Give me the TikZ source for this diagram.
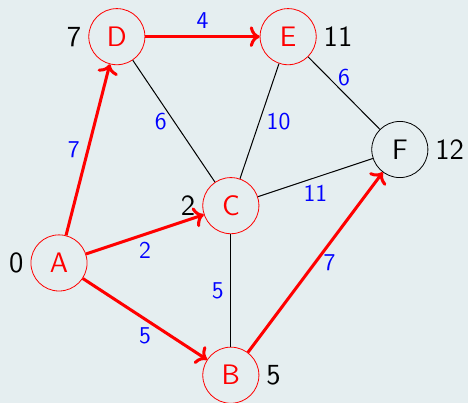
\documentclass[tikz,border=0pt]{standalone}
\usepackage{tikz}
\usepackage{xcolor}
\usetikzlibrary{arrows.meta,positioning}
\definecolor{grbg}{HTML}{E5EEF0}
\tikzset{
  vtx/.style={circle, draw=red, text=red, minimum size=0.98cm, inner sep=0pt, font=\fontsize{14}{16}\selectfont\sffamily},
  dlab/.style={font=\fontsize{14.5}{16}\selectfont\sffamily, text=black},
  wlab/.style={font=\fontsize{12}{14}\selectfont\sffamily, text=blue},
  treeEdge/.style={-To, draw=red, line width=1.5pt},
  plainEdge/.style={draw=black, line width=0.5pt}
}
\begin{document}
\begin{tikzpicture}[x=1cm,y=1cm]
  \fill[grbg] (-1.03,-2.44) rectangle (7.14,4.59);
  \useasboundingbox (-1.03,-2.44) rectangle (7.14,4.59);
  % vertices with their distances
  \node[vtx, label={[dlab]left:0}] (A) at (0,0) {A};
  \node[vtx, label={[dlab]right:5}] (B) at (3,-1.96) {B};
  \node[vtx, label={[dlab]left:2}] (C) at (3,1) {C};
  \node[vtx, label={[dlab]left:7}] (D) at (1.01,3.95) {D};
  \node[vtx, label={[dlab]right:11}] (E) at (4,3.95) {E};
  \node[vtx, draw=black, text=black, label={[dlab]right:12}] (F) at (5.95,1.98) {F};
  % other edges
  \draw[plainEdge] (D) -- (C) node[midway, left, wlab]{6};
  \draw[plainEdge] (E) -- (C) node[midway, right, wlab]{10};
  \draw[plainEdge] (E) -- (F) node[midway, above, wlab]{6};
  \draw[plainEdge] (C) -- (F) node[midway, below, wlab]{11};
  \draw[plainEdge] (C) -- (B) node[midway, left, wlab]{5};
  % shortest path tree
  \draw[treeEdge] (A) -- (D) node[midway, left, wlab]{7};
  \draw[treeEdge] (D) -- (E) node[midway, above, wlab]{4};
  \draw[treeEdge] (A) -- (C) node[midway, below, wlab]{2};
  \draw[treeEdge] (A) -- (B) node[midway, below, wlab]{5};
  \draw[treeEdge] (B) -- (F) node[midway, right, wlab]{7};
\end{tikzpicture}
\end{document}
